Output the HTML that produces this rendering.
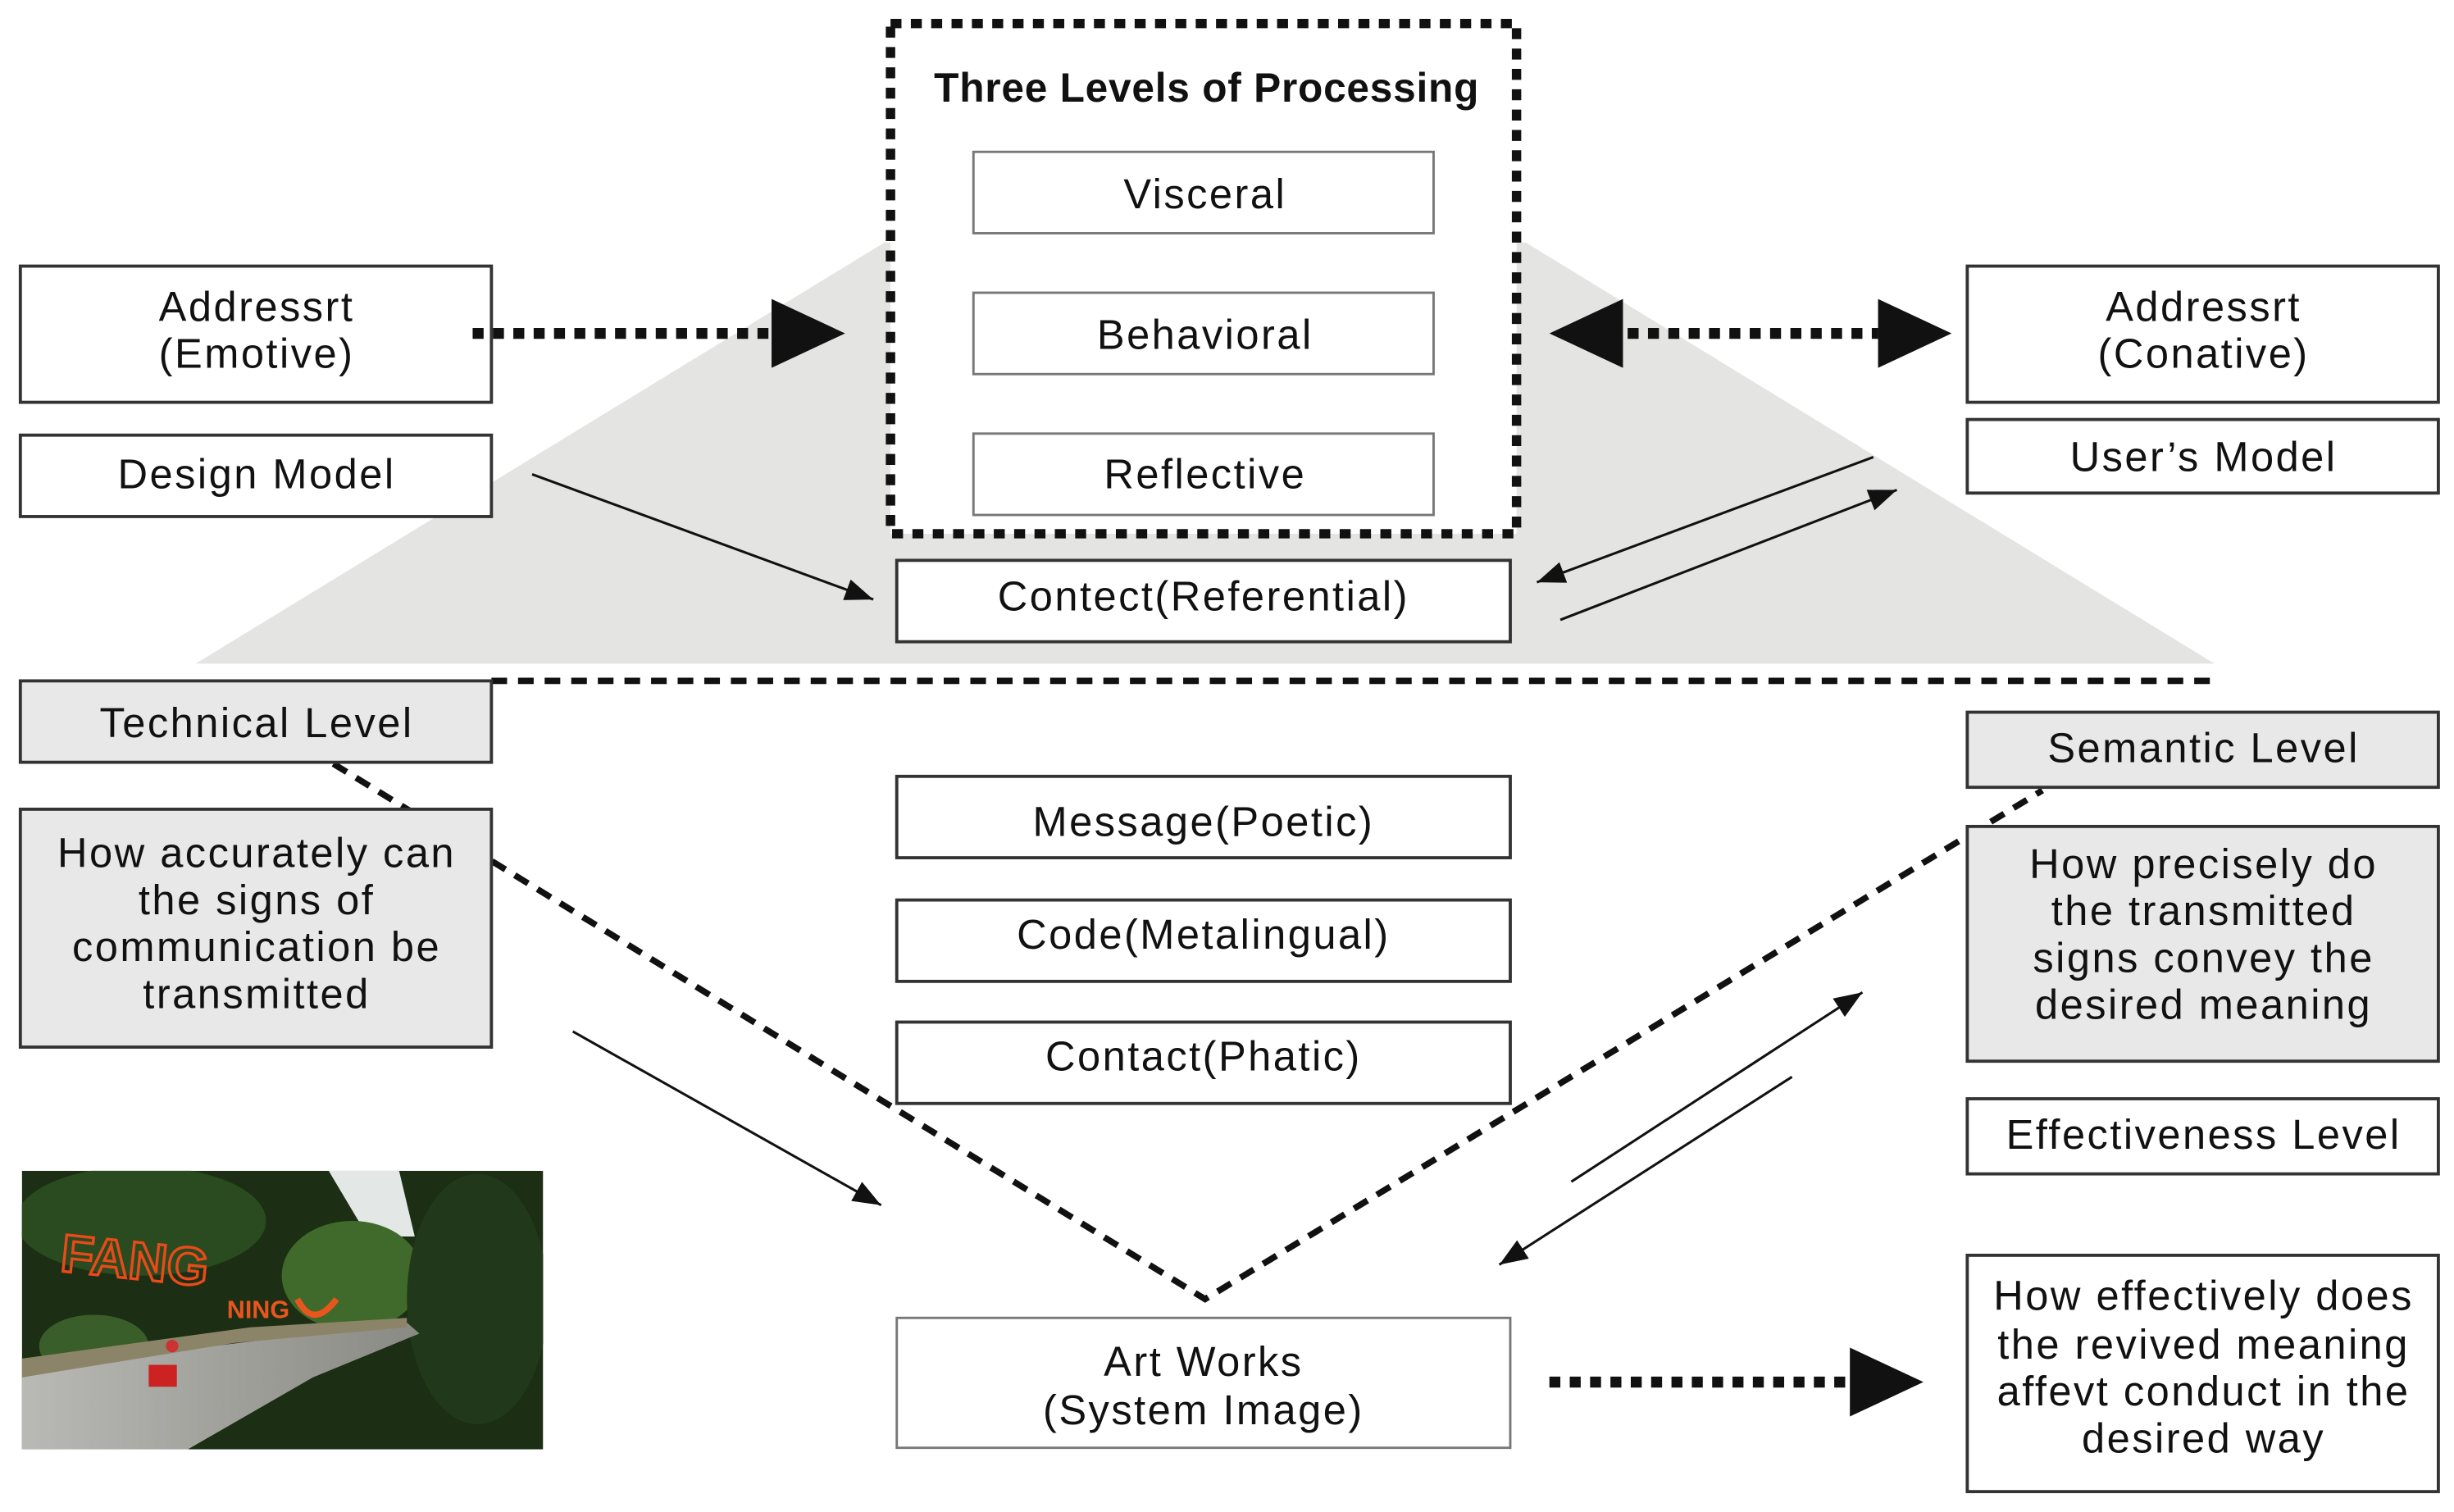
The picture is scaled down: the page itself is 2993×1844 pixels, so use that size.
<!DOCTYPE html>
<html><head><meta charset="utf-8"><style>html,body{margin:0;padding:0;background:#fff}svg{display:block}text{font-family:"Liberation Sans",sans-serif;fill:#111}</style></head><body>
<svg width="2993" height="1844" viewBox="0 0 1568 966" xmlns="http://www.w3.org/2000/svg">
<defs>
<marker id="s" markerWidth="20" markerHeight="16" refX="18" refY="8" orient="auto" markerUnits="userSpaceOnUse"><path d="M0,1 L18,8 L0,15 z" fill="#111"/></marker>
<linearGradient id="road" x1="0" y1="0" x2="1" y2="0"><stop offset="0" stop-color="#b9b9b5"/><stop offset="1" stop-color="#8a8a84"/></linearGradient>
<clipPath id="pc"><rect x="14" y="748" width="333" height="178"/></clipPath>
</defs>
<rect width="1568" height="966" fill="#fff"/>
<polygon points="125,424 565,155 975,155 1415,424" fill="#e4e4e3"/>
<line x1="314" y1="435" x2="1415" y2="435" stroke="#111" stroke-width="4" stroke-dasharray="10 7"/>
<polyline points="213,488 770,830 1305,505" fill="none" stroke="#111" stroke-width="4" stroke-dasharray="10 7"/>
<rect x="569" y="15" width="400" height="326" fill="#fff" stroke="#111" stroke-width="6" stroke-dasharray="7 6"/>
<text x="771" y="65" font-size="26" font-weight="bold" text-anchor="middle" letter-spacing="0.4">Three Levels of Processing</text>
<g fill="#fff" stroke="#777" stroke-width="1.5">
<rect x="622" y="97" width="294" height="52"/><rect x="622" y="187" width="294" height="52"/><rect x="622" y="277" width="294" height="52"/>
<rect x="573" y="842" width="392" height="83"/>
</g>
<g fill="#fff" stroke="#333" stroke-width="2">
<rect x="13" y="170" width="301" height="87"/><rect x="13" y="278" width="301" height="52"/>
<rect x="1257" y="170" width="301" height="87"/><rect x="1257" y="268" width="301" height="47"/>
<rect x="573" y="358" width="392" height="52"/>
<rect x="573" y="496" width="392" height="52"/><rect x="573" y="575" width="392" height="52"/><rect x="573" y="653" width="392" height="52"/>
<rect x="1257" y="702" width="301" height="48"/><rect x="1257" y="802" width="301" height="151"/>
</g>
<g fill="#e8e8e8" stroke="#333" stroke-width="2">
<rect x="13" y="435" width="301" height="52"/><rect x="13" y="517" width="301" height="152"/>
<rect x="1257" y="455" width="301" height="48"/><rect x="1257" y="528" width="301" height="150"/>
</g>
<g font-size="26.5" text-anchor="middle" letter-spacing="1.3">
<text x="770" y="133">Visceral</text><text x="770" y="223">Behavioral</text><text x="770" y="312">Reflective</text>
<text x="164" y="205">Addressrt</text><text x="164" y="235">(Emotive)</text>
<text x="164" y="312">Design Model</text>
<text x="1408" y="205">Addressrt</text><text x="1408" y="235">(Conative)</text>
<text x="1408" y="301">User’s Model</text>
<text x="769" y="390">Contect(Referential)</text>
<text x="164" y="471">Technical Level</text>
<text x="164" y="554">How accurately can</text><text x="164" y="584">the signs of</text><text x="164" y="614">communication be</text><text x="164" y="644">transmitted</text>
<text x="1408" y="487">Semantic Level</text>
<text x="1408" y="561">How precisely do</text><text x="1408" y="591">the transmitted</text><text x="1408" y="621">signs convey the</text><text x="1408" y="651">desired meaning</text>
<text x="769" y="534">Message(Poetic)</text><text x="769" y="606">Code(Metalingual)</text><text x="769" y="684">Contact(Phatic)</text>
<text x="1408" y="734">Effectiveness Level</text>
<text x="1408" y="837">How effectively does</text><text x="1408" y="868">the revived meaning</text><text x="1408" y="898">affevt conduct in the</text><text x="1408" y="928">desired way</text>
<text x="769" y="879">Art Works</text><text x="769" y="910">(System Image)</text>
</g>
<g stroke="#111" stroke-width="7" stroke-dasharray="7 6">
<line x1="302" y1="213" x2="493" y2="213"/><line x1="1040" y1="213" x2="1200" y2="213"/><line x1="990" y1="883" x2="1182" y2="883"/>
</g>
<g fill="#111">
<polygon points="493,191 540,213 493,235"/>
<polygon points="1037,191 990,213 1037,235"/><polygon points="1200,191 1247,213 1200,235"/>
<polygon points="1182,861 1229,883 1182,905"/>
</g>
<g stroke="#111" stroke-width="1.6" marker-end="url(#s)">
<line x1="340" y1="303" x2="558" y2="383"/>
<line x1="1197" y1="292" x2="982" y2="372"/>
<line x1="997" y1="396" x2="1212" y2="313"/>
<line x1="366" y1="659" x2="563" y2="770"/>
<line x1="1004" y1="755" x2="1190" y2="634"/>
<line x1="1145" y1="688" x2="958" y2="808"/>
</g>
<g clip-path="url(#pc)">
<rect x="14" y="748" width="333" height="178" fill="#1c2e14"/>
<polygon points="210,748 255,748 265,790 235,790" fill="#e3e8e6"/>
<ellipse cx="225" cy="815" rx="45" ry="35" fill="#3f6a2b"/>
<ellipse cx="90" cy="780" rx="80" ry="35" fill="#2a4a1f"/>
<ellipse cx="305" cy="830" rx="45" ry="80" fill="#21391a"/>
<ellipse cx="60" cy="860" rx="35" ry="20" fill="#3a5e2a"/>
<polygon points="14,880 120,862 260,845 268,852 200,880 120,926 14,926" fill="url(#road)"/>
<polygon points="14,868 160,848 260,842 260,848 150,858 14,880" fill="#8c8468"/>
<text x="38" y="812" font-size="34" font-weight="bold" style="fill:none;stroke:#e84a1a;stroke-width:1.8" transform="rotate(6 38 812)">FANG</text>
<text x="145" y="842" font-size="16" font-weight="bold" style="fill:#e8561e">NING</text>
<path d="M190,830 q10,20 25,0" style="fill:none;stroke:#e8561e;stroke-width:4"/>
<rect x="95" y="872" width="18" height="14" fill="#cc2222"/>
<circle cx="110" cy="860" r="4" fill="#c33"/>
</g>
</svg>
</body></html>
